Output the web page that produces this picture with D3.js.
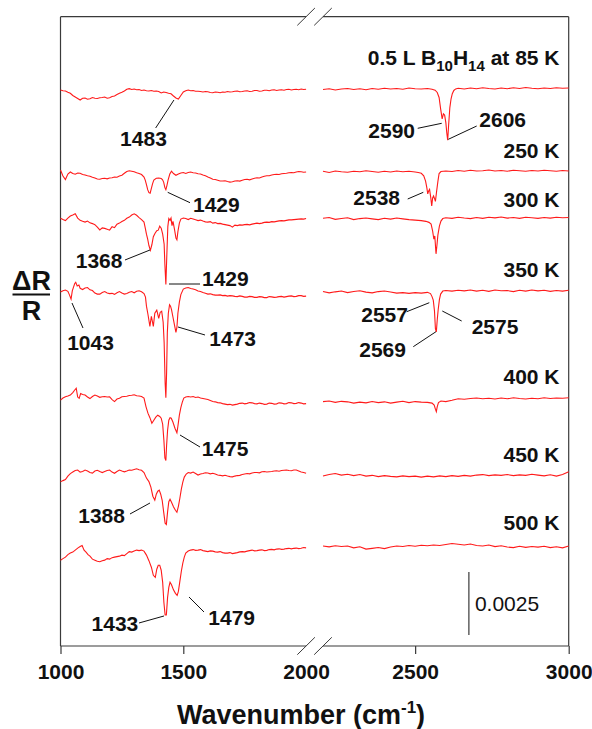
<!DOCTYPE html>
<html><head><meta charset="utf-8">
<script src="https://cdn.jsdelivr.net/npm/d3@7"></script>
<style>
body{margin:0;background:#fff}
svg{display:block}
text{font-family:"Liberation Sans",Arial,Helvetica,sans-serif}
</style>
</head><body>
<svg id="chart" width="592" height="729"></svg>
<script>
// ---------- DATA (ΔR/R in units of 1e-4, relative to each trace's offset) ----------
const temperatures = ["0.5 L B10H14 at 85 K","250 K","300 K","350 K","400 K","450 K","500 K"];
const offsets = [-29.1,-61.7,-80.4,-109.4,-152.3,-181.7,-210.7];
const xTicksLeft = [1000,1500,2000];
const xTicksRight = [2500,3000];
const scaleBarValue = 0.0025;

const left85 = [[1000,0],[1010,-0.3],[1020,-0.4],[1030,-0.9],[1040,-1.3],[1050,-2.2],[1060,-2.8],[1070,-3.4],[1080,-4.0],[1090,-3.3],[1100,-3.2],[1110,-3.7],[1120,-3.5],[1130,-3.0],[1140,-3.3],[1150,-3.4],[1160,-3.1],[1170,-3.0],[1180,-2.8],[1190,-3.3],[1200,-3.1],[1210,-2.6],[1220,-2.4],[1230,-1.8],[1240,-1.3],[1250,-0.9],[1260,-0.4],[1270,0.3],[1280,0.5],[1290,0.2],[1300,0.4],[1310,0.1],[1320,0.2],[1330,-0.2],[1340,0],[1350,-0.3],[1360,-0.4],[1370,-0.2],[1380,-0.5],[1390,-0.4],[1400,-0.6],[1410,-1.2],[1420,-0.8],[1430,-1.0],[1440,-1.3],[1450,-1.5],[1460,-2.4],[1470,-3.2],[1480,-3.6],[1490,-2.2],[1500,-0.8],[1510,-0.3],[1520,0],[1530,-0.3],[1540,-0.2],[1550,-0.5],[1560,-0.5],[1570,-0.6],[1580,-0.8],[1590,-0.6],[1600,-0.7],[1610,-1.0],[1620,-1.1],[1630,-0.8],[1640,-0.9],[1650,-1.1],[1660,-0.8],[1670,-0.9],[1680,-0.6],[1690,-0.8],[1700,-0.7],[1710,-0.5],[1720,-0.4],[1730,-0.7],[1740,-0.6],[1750,-0.4],[1760,-0.3],[1770,-0.6],[1780,-0.5],[1790,-0.2],[1800,-0.2],[1810,-0.5],[1820,-0.4],[1830,-0.1],[1840,-0.1],[1850,-0.3],[1860,0],[1870,0.1],[1880,-0.2],[1890,0],[1900,0.1],[1910,-0.1],[1920,0.2],[1930,0.3],[1940,0],[1950,0.2],[1960,0.3],[1970,0.1],[1980,0.4],[1990,0.2],[2000,0.3]];
const right85 = [[2200,0.2],[2220,0.5],[2240,0],[2260,0.4],[2280,0.6],[2300,0.2],[2320,0.5],[2340,0.1],[2360,0.6],[2380,0.3],[2400,0.7],[2420,0.4],[2440,0.6],[2460,0.3],[2480,0.8],[2500,0.5],[2520,0.4],[2540,0.6],[2555,0.3],[2565,-0.1],[2572,-1.0],[2578,-3.0],[2583,-7.5],[2588,-11.5],[2592,-9.5],[2596,-10],[2600,-13],[2603,-17],[2606,-20],[2609,-14],[2613,-7],[2617,-3.5],[2621,-1.5],[2626,-0.2],[2632,0.4],[2640,0.7],[2660,0.4],[2680,0.8],[2700,0.5],[2720,0.9],[2740,0.6],[2760,0.4],[2780,0.8],[2800,0.5],[2820,0.9],[2840,0.6],[2860,1.0],[2880,0.7],[2900,0.5],[2920,0.8],[2940,0.6],[2960,0.9],[2980,0.7],[3000,0.8]];

const left250 = [[1000,0.8],[1010,-1.6],[1020,-3.0],[1030,-0.8],[1040,0],[1050,-0.6],[1060,-0.9],[1070,-0.4],[1080,-0.5],[1090,-1.0],[1100,-1.2],[1110,-1.5],[1120,-1.7],[1130,-2.1],[1140,-2.4],[1150,-2.8],[1160,-2.9],[1170,-2.6],[1180,-2.5],[1190,-2.7],[1200,-2.4],[1210,-2.3],[1220,-2.0],[1230,-2.1],[1240,-1.6],[1250,-1.3],[1260,-0.5],[1270,0.2],[1280,0.5],[1290,0.3],[1300,0.1],[1310,-0.3],[1320,-0.6],[1330,-1.0],[1340,-2.0],[1345,-3.2],[1350,-5.0],[1355,-7.0],[1360,-8.2],[1365,-8.4],[1370,-6.5],[1375,-4.6],[1380,-3.2],[1390,-2.5],[1400,-2.4],[1410,-2.6],[1415,-3.0],[1420,-4.0],[1425,-6.2],[1429,-7.0],[1433,-5.5],[1438,-3.2],[1445,-0.8],[1452,0.3],[1460,-0.6],[1470,-1.3],[1480,-0.8],[1490,-0.4],[1500,-0.2],[1510,-0.6],[1520,-0.2],[1530,0],[1540,-0.3],[1550,-0.4],[1560,-0.7],[1570,-0.8],[1580,-1.2],[1590,-1.5],[1600,-2.0],[1610,-2.4],[1620,-2.9],[1630,-3.0],[1640,-3.3],[1650,-3.6],[1660,-3.6],[1670,-3.5],[1680,-3.8],[1690,-4.0],[1700,-3.9],[1710,-3.6],[1720,-3.5],[1730,-3.6],[1740,-3.3],[1750,-3.0],[1760,-2.9],[1770,-3.1],[1780,-2.8],[1790,-2.5],[1800,-2.3],[1810,-2.4],[1820,-2.0],[1830,-1.7],[1840,-1.5],[1850,-1.5],[1860,-1.2],[1870,-1.0],[1880,-0.9],[1890,-1.0],[1900,-0.7],[1910,-0.6],[1920,-0.5],[1930,-0.3],[1940,-0.2],[1950,-0.3],[1960,0],[1970,0.2],[1980,0.1],[1990,-0.1],[2000,0]];
const right250 = [[2200,0.3],[2220,-0.2],[2240,0.4],[2260,0.1],[2280,-0.1],[2300,0.3],[2320,0.1],[2340,0.5],[2360,0.2],[2380,-0.1],[2400,0.3],[2420,0],[2440,0.4],[2460,0.1],[2480,0.3],[2500,0],[2510,-0.2],[2520,-0.5],[2528,-1.5],[2534,-3.6],[2538,-6.2],[2541,-8.7],[2544,-7.5],[2547,-6.9],[2551,-10.3],[2554,-13.5],[2557,-10.3],[2560,-9.5],[2563,-10.5],[2566,-11.7],[2570,-7.6],[2574,-3.8],[2578,-0.6],[2584,0.2],[2600,0.4],[2620,0.2],[2640,0.6],[2660,0.3],[2680,0.7],[2700,0.4],[2720,0.5],[2740,0.8],[2760,0.4],[2780,0.6],[2800,0.3],[2820,0.7],[2840,0.5],[2860,0.3],[2880,0.6],[2900,0.4],[2920,0.7],[2940,0.5],[2960,0.3],[2980,0.6],[3000,0.4]];

const left300 = [[1000,0.3],[1010,-0.2],[1020,-0.6],[1030,0.4],[1040,1.2],[1050,1.6],[1060,2.1],[1070,0.4],[1080,-0.5],[1090,-0.9],[1100,-1.2],[1110,-0.8],[1120,-1.5],[1130,-1.8],[1140,-2.2],[1150,-3.2],[1160,-4.3],[1170,-3.5],[1180,-3.7],[1190,-4.0],[1200,-4.4],[1210,-3.0],[1220,-3.4],[1230,-2.0],[1240,-1.6],[1250,-1.0],[1260,-0.5],[1270,0.3],[1280,0.8],[1290,1.6],[1300,2.1],[1310,1.5],[1320,0.6],[1330,-0.2],[1340,-1.2],[1345,-3.5],[1350,-6.0],[1355,-8.0],[1360,-10.5],[1366,-12.4],[1372,-10.2],[1378,-7.0],[1385,-5.6],[1392,-4.6],[1398,-4.4],[1404,-2.8],[1410,-3.6],[1416,-6.0],[1422,-10.0],[1425,-18],[1429,-26],[1433,-14],[1437,-3.0],[1441,0.2],[1446,-0.5],[1450,0.4],[1454,-2.6],[1458,-0.9],[1464,-4.0],[1470,-7.5],[1474,-8.2],[1478,-5.0],[1484,-1.6],[1490,0],[1500,0.4],[1510,0.2],[1520,-0.2],[1530,0.3],[1540,0],[1550,-0.3],[1560,-0.6],[1570,-0.4],[1580,-0.8],[1590,-1.1],[1600,-1.2],[1610,-1.0],[1620,-1.6],[1630,-1.4],[1640,-1.8],[1650,-1.7],[1660,-2.0],[1670,-2.2],[1680,-2.4],[1690,-2.6],[1700,-3.2],[1710,-2.4],[1720,-2.6],[1730,-2.3],[1740,-2.4],[1750,-2.2],[1760,-2.1],[1770,-2.3],[1780,-2.0],[1790,-1.8],[1800,-1.6],[1810,-1.8],[1820,-1.6],[1830,-1.3],[1840,-1.2],[1850,-1.3],[1860,-1.0],[1870,-1.1],[1880,-0.9],[1890,-0.7],[1900,-0.6],[1910,-0.7],[1920,-0.5],[1930,-0.3],[1940,-0.3],[1950,-0.2],[1960,-0.1],[1970,0],[1980,0.1],[1990,0],[2000,0.2]];
const right300 = [[2200,0.3],[2220,0.6],[2240,-0.1],[2260,0.2],[2280,0.5],[2300,-0.2],[2320,0.2],[2340,0.4],[2360,0.1],[2380,-0.2],[2400,0.3],[2420,0],[2440,0.4],[2460,0.1],[2480,-0.2],[2500,-0.4],[2520,-0.6],[2535,-0.9],[2545,-1.3],[2552,-2.0],[2557,-4.8],[2561,-8.0],[2564,-6.7],[2568,-13.8],[2571,-10.4],[2574,-6.4],[2579,-2.8],[2584,-0.8],[2590,0.2],[2600,0.5],[2620,0.3],[2640,0.7],[2660,0.4],[2680,0.2],[2700,0.6],[2720,0.3],[2740,0.7],[2760,0.5],[2780,0.8],[2800,0.4],[2820,0.6],[2840,0.3],[2860,0.7],[2880,0.5],[2900,0.3],[2920,0.6],[2940,0.4],[2960,0.7],[2980,0.5],[3000,0.6]];

const left350 = [[1000,0],[1010,0.5],[1020,0.8],[1030,0.3],[1036,-1.0],[1043,-2.8],[1048,0.5],[1053,2.0],[1058,3.4],[1062,3.9],[1068,2.4],[1075,2.8],[1080,1.5],[1090,1.0],[1100,1.6],[1110,1.8],[1120,0.9],[1130,0.6],[1140,-0.4],[1150,-0.8],[1160,-0.8],[1170,-0.2],[1180,0.2],[1190,-0.4],[1200,-0.6],[1210,-0.5],[1220,-0.9],[1230,-0.3],[1240,0.2],[1250,-0.4],[1260,-0.8],[1270,-0.6],[1280,-0.1],[1290,0.2],[1300,-0.3],[1310,0.3],[1320,0.5],[1330,0.1],[1340,-0.6],[1346,-2.0],[1350,-5.6],[1356,-8.8],[1364,-13.6],[1370,-9.6],[1378,-13.6],[1384,-8.4],[1392,-7.2],[1400,-10.4],[1406,-8.0],[1412,-7.6],[1418,-12],[1422,-20],[1426,-36],[1429,-42],[1432,-32],[1435,-16],[1439,-8.4],[1444,-5.0],[1448,-5.6],[1452,-7.0],[1458,-10.0],[1464,-13.0],[1470,-16.0],[1474,-14],[1478,-8.4],[1484,-4.0],[1490,-1.0],[1500,1.2],[1510,1.6],[1520,1.8],[1530,1.4],[1540,1.2],[1550,0.9],[1560,0.4],[1570,0.2],[1580,-0.2],[1590,-0.5],[1600,-0.8],[1610,-0.7],[1620,-1.0],[1630,-1.2],[1640,-1.2],[1650,-1.1],[1660,-1.4],[1670,-1.3],[1680,-1.6],[1690,-1.4],[1700,-1.5],[1710,-1.7],[1720,-1.8],[1730,-1.5],[1740,-1.7],[1750,-2.0],[1760,-2.0],[1770,-1.7],[1780,-1.8],[1790,-2.1],[1800,-2.1],[1810,-1.8],[1820,-1.9],[1830,-2.2],[1840,-2.2],[1850,-1.8],[1860,-1.9],[1870,-2.1],[1880,-2.0],[1890,-1.8],[1900,-1.7],[1910,-2.0],[1920,-1.8],[1930,-1.6],[1940,-1.5],[1950,-1.8],[1960,-1.7],[1970,-1.4],[1980,-1.4],[1990,-1.7],[2000,-1.6]];
const right350 = [[2200,0.2],[2220,-0.3],[2240,0.1],[2260,0.4],[2280,-0.2],[2300,0.2],[2320,0.5],[2340,0],[2360,-0.3],[2380,0.2],[2400,0.4],[2420,0],[2440,-0.4],[2460,-0.2],[2480,-0.5],[2500,-0.2],[2520,-0.4],[2540,-0.1],[2550,-0.6],[2555,-1.8],[2559,-3.2],[2563,-7.5],[2566,-14.5],[2569,-15.8],[2572,-11.0],[2575,-7.0],[2579,-3.0],[2583,-0.8],[2590,0.4],[2600,0.6],[2620,0.4],[2640,0.7],[2660,0.5],[2680,0.8],[2700,0.4],[2720,0.7],[2740,0.3],[2760,0.8],[2780,0.5],[2800,0.6],[2820,0.2],[2840,0.7],[2860,0.4],[2880,0.8],[2900,0.5],[2920,0.7],[2940,0.3],[2960,0.6],[2980,0.4],[3000,0.7]];

const left400 = [[1000,0],[1010,0.8],[1020,1.3],[1030,1.6],[1040,2.0],[1050,3.0],[1058,4.0],[1064,4.7],[1070,1.2],[1076,0.7],[1082,2.6],[1090,2.2],[1100,2.0],[1110,1.2],[1120,0.6],[1130,1.4],[1140,2.0],[1150,1.6],[1160,1.1],[1170,1.3],[1180,1.4],[1190,1.2],[1200,1.3],[1210,0.2],[1220,-0.6],[1230,0.4],[1240,0.7],[1250,1.3],[1260,1.4],[1270,1.5],[1280,1.8],[1290,1.9],[1300,2.1],[1310,1.7],[1320,1.6],[1330,1.4],[1340,0.8],[1348,-2.6],[1356,-5.2],[1364,-7.0],[1372,-9.2],[1380,-8.0],[1388,-6.8],[1396,-6.0],[1404,-6.5],[1410,-7.2],[1416,-9.6],[1421,-16],[1425,-23],[1429,-24],[1432,-18],[1436,-12],[1441,-8.0],[1446,-7.0],[1451,-7.2],[1458,-8.8],[1466,-11.2],[1474,-13.0],[1478,-10.4],[1484,-6.0],[1490,-3.0],[1496,-0.8],[1502,0.8],[1510,1.2],[1520,1.4],[1530,1.2],[1540,1.4],[1550,1.0],[1560,1.2],[1570,0.8],[1580,0.6],[1590,0.4],[1600,0.2],[1610,-0.2],[1620,-0.6],[1630,-0.7],[1640,-1.0],[1650,-1.1],[1660,-1.4],[1670,-1.6],[1680,-1.8],[1690,-1.7],[1700,-2.0],[1710,-1.8],[1720,-1.6],[1730,-1.3],[1740,-1.2],[1750,-1.5],[1760,-1.3],[1770,-1.0],[1780,-1.1],[1790,-1.4],[1800,-1.5],[1810,-1.2],[1820,-1.4],[1830,-1.7],[1840,-1.6],[1850,-1.2],[1860,-1.3],[1870,-1.6],[1880,-1.5],[1890,-1.1],[1900,-1.2],[1910,-1.5],[1920,-1.4],[1930,-1.0],[1940,-1.1],[1950,-1.4],[1960,-1.3],[1970,-1.0],[1980,-1.2],[1990,-1.5],[2000,-1.4]];
const right400 = [[2200,-0.6],[2220,-0.4],[2240,-0.9],[2260,-0.5],[2280,-0.7],[2300,-1.2],[2320,-0.8],[2340,-1.1],[2360,-0.6],[2380,-1.0],[2400,-0.7],[2420,-1.2],[2440,-0.8],[2460,-0.5],[2480,-1.0],[2500,-0.6],[2520,-0.8],[2540,-0.9],[2555,-1.2],[2562,-2.0],[2566,-3.6],[2569,-4.6],[2572,-2.6],[2576,-1.0],[2584,-0.4],[2600,-0.6],[2620,-0.1],[2640,0.5],[2660,0.3],[2680,0.6],[2700,0.8],[2720,0.5],[2740,0.7],[2760,0.4],[2780,0.8],[2800,0.5],[2820,0.9],[2840,0.6],[2860,0.4],[2880,0.7],[2900,0.5],[2920,0.9],[2940,0.6],[2960,0.8],[2980,0.7],[3000,0.9]];

const left450 = [[1000,-3.1],[1010,-2.6],[1020,-2.2],[1030,-0.8],[1040,0.2],[1050,0.8],[1060,1.4],[1070,1.6],[1080,0.8],[1090,1.0],[1100,1.6],[1110,1.2],[1120,0.6],[1130,0.4],[1140,1.2],[1150,1.5],[1160,1.0],[1170,0.6],[1180,1.0],[1190,1.4],[1200,1.6],[1210,0.8],[1220,0.3],[1230,1.0],[1240,1.6],[1250,1.2],[1260,0.9],[1270,1.2],[1280,1.6],[1290,1.5],[1300,1.8],[1310,2.1],[1320,1.7],[1330,1.5],[1340,0.6],[1350,-1.6],[1360,-3.0],[1368,-5.2],[1376,-8.8],[1384,-10.4],[1390,-8.0],[1396,-6.8],[1402,-6.4],[1408,-8.0],[1414,-10.4],[1420,-15],[1426,-19.5],[1431,-20],[1436,-15],[1441,-11],[1446,-10],[1452,-11.2],[1460,-13],[1468,-14.4],[1474,-15.2],[1480,-12.8],[1486,-9.6],[1492,-6.0],[1498,-3.2],[1504,-1.2],[1512,0],[1520,0.6],[1530,0.4],[1540,0.8],[1550,0.2],[1560,-0.4],[1570,0],[1580,0.2],[1590,0.5],[1600,0.4],[1610,0.1],[1620,0.3],[1630,0],[1640,-0.4],[1650,-0.5],[1660,-0.7],[1670,-0.5],[1680,-0.8],[1690,-1.0],[1700,-1.1],[1710,-0.8],[1720,-0.6],[1730,-0.5],[1740,-0.2],[1750,0],[1760,0.2],[1770,0.1],[1780,0.4],[1790,0.6],[1800,0.6],[1810,0.5],[1820,0.9],[1830,1.0],[1840,0.8],[1850,0.9],[1860,1.0],[1870,1.2],[1880,1.3],[1890,1.1],[1900,1.4],[1910,1.5],[1920,1.6],[1930,1.4],[1940,1.3],[1950,1.6],[1960,1.6],[1970,1.2],[1980,0.8],[1990,0.6],[2000,0.3]];
const right450 = [[2200,-0.8],[2220,-0.2],[2240,0.2],[2260,-0.4],[2280,-0.1],[2300,-0.6],[2320,-0.2],[2340,-0.8],[2360,-0.5],[2380,-1.0],[2400,-0.6],[2420,-0.9],[2440,-1.1],[2460,-0.7],[2480,-1.0],[2500,-0.8],[2520,-1.2],[2540,-0.8],[2560,-1.1],[2580,-0.7],[2600,-1.0],[2620,-0.6],[2640,-0.9],[2660,-0.5],[2680,-0.8],[2700,-0.4],[2720,-0.2],[2740,-0.6],[2760,-0.3],[2780,-0.5],[2800,-0.2],[2820,-0.6],[2840,-0.3],[2860,-0.5],[2880,-0.1],[2900,-0.4],[2920,-0.7],[2940,-0.3],[2960,-0.8],[2980,-0.2],[3000,0.9]];

const left500 = [[1000,-5.2],[1010,-4.6],[1020,-4.0],[1030,-3.0],[1040,-2.4],[1050,-2.0],[1060,-1.2],[1070,-0.4],[1080,0.2],[1088,0.6],[1096,-1.2],[1104,-2.0],[1112,-3.0],[1120,-3.6],[1130,-4.8],[1140,-5.2],[1150,-5.6],[1160,-5.8],[1170,-5.4],[1180,-5.2],[1190,-4.6],[1200,-4.8],[1210,-4.2],[1220,-4.0],[1230,-3.8],[1240,-3.6],[1250,-3.2],[1260,-3.4],[1270,-2.6],[1280,-1.8],[1290,-2.0],[1300,-1.6],[1310,-1.2],[1320,-1.4],[1330,-1.2],[1340,-1.6],[1350,-3.2],[1360,-5.4],[1370,-8.0],[1378,-11.2],[1386,-12],[1392,-8.8],[1398,-7.2],[1404,-7.2],[1410,-9.2],[1416,-14],[1421,-22],[1426,-27],[1431,-27],[1436,-20],[1441,-16],[1446,-14.0],[1452,-15],[1460,-17],[1468,-18.4],[1475,-19.2],[1480,-17.6],[1486,-13.6],[1492,-9.6],[1498,-6.4],[1504,-4.0],[1510,-2.4],[1520,-1.6],[1530,-1.2],[1540,-1.0],[1550,-1.3],[1560,-1.2],[1570,-1.0],[1580,-1.4],[1590,-1.6],[1600,-1.8],[1610,-1.5],[1620,-1.6],[1630,-1.9],[1640,-2.0],[1650,-1.8],[1660,-2.2],[1670,-2.4],[1680,-2.4],[1690,-2.2],[1700,-2.6],[1710,-2.4],[1720,-2.2],[1730,-1.9],[1740,-1.8],[1750,-1.9],[1760,-1.6],[1770,-1.4],[1780,-1.2],[1790,-1.5],[1800,-1.4],[1810,-1.2],[1820,-1.1],[1830,-1.4],[1840,-1.3],[1850,-1.0],[1860,-0.9],[1870,-1.1],[1880,-0.8],[1890,-0.7],[1900,-0.9],[1910,-0.8],[1920,-0.6],[1930,-0.5],[1940,-0.7],[1950,-0.5],[1960,-0.4],[1970,-0.6],[1980,-0.5],[1990,-0.2],[2000,-0.3]];
const right500 = [[2200,0.4],[2220,0.1],[2240,0.5],[2260,0.2],[2280,0.4],[2300,-0.3],[2320,0.1],[2340,-0.8],[2360,-0.5],[2380,-0.2],[2400,-0.6],[2420,0],[2440,0.4],[2460,0.2],[2480,0.6],[2500,0.3],[2520,0.7],[2540,0.5],[2560,0.8],[2580,0.6],[2600,1.0],[2620,1.4],[2640,1.1],[2660,0.8],[2680,1.2],[2700,0.6],[2720,0.4],[2740,0.8],[2760,0.2],[2780,0.5],[2800,0],[2820,-0.2],[2840,0.3],[2860,-0.1],[2880,0.2],[2900,0],[2920,0.3],[2940,-0.2],[2960,0.1],[2980,-0.3],[3000,0.4]];

// peak annotations: label, panel, wavenumber and ΔR/R (1e-4) of the pointed spot
const peakLabels = ["1483","1429","1368","1429","1043","1473","1475","1388","1433","1479","2590","2606","2538","2557","2575","2569"];
const peakPanels = ["L","L","L","L","L","L","L","L","L","L","R","R","R","R","R","R"];
const peakWn = [1462,1436.5,1364.4,1441.8,1046.8,1478.4,1486.6,1364.4,1421.4,1523.2,2586.5,2608,2526.6,2546.1,2588.4,2567.9];
const peakVal = [-33.09,-69.76,-92.68,-106.19,-113.74,-123.27,-166.18,-193.19,-238.08,-230.53,-42.35,-48.71,-69.76,-113.62,-116.92,-125.14];

// ---------- LAYOUT ----------
const svg = d3.select("#chart");
const xL = d3.scaleLinear().domain([1000,2000]).range([60.5,306.1]);
const xR = d3.scaleLinear().domain([2200,3000]).range([323,568.7]);
const y = d3.scaleLinear().domain([-250,0]).range([646,16.7]);
const yTop = y(0), yBot = y(-250);

const frame = svg.append("g").attr("stroke","#3a3a3a").attr("stroke-width",1.2).attr("fill","none");
[[xL(1000),yTop,xL(1000),yBot],[xR(3000),yTop,xR(3000),yBot],
 [xL(1000),yTop,xL(2000),yTop],[xR(2200),yTop,xR(3000),yTop],
 [xL(1000),yBot,xL(2000),yBot],[xR(2200),yBot,xR(3000),yBot]].forEach(s=>{
  frame.append("line").attr("x1",s[0]).attr("y1",s[1]).attr("x2",s[2]).attr("y2",s[3]);
});
// break marks
[yTop,yBot].forEach(yy=>{
  [xL(2000),xR(2200)].forEach(cx=>{
    frame.append("line").attr("x1",cx-8.8).attr("y1",yy+8.7).attr("x2",cx+8.8).attr("y2",yy-8.7).attr("stroke-width",1);
  });
});

// axes
const axL = d3.axisBottom(xL).tickValues(xTicksLeft).tickSize(8).tickSizeOuter(0).tickPadding(10).tickFormat(d3.format("d"));
const axR = d3.axisBottom(xR).tickValues(xTicksRight).tickSize(8).tickSizeOuter(0).tickPadding(10).tickFormat(d3.format("d"));
[axL,axR].forEach(a=>{
  const g = svg.append("g").attr("transform",`translate(0,${yBot})`).call(a);
  g.select(".domain").remove();
  g.selectAll(".tick line").attr("stroke","#3a3a3a").attr("stroke-width",1.2);
  g.selectAll(".tick text").attr("font-size",21).attr("font-weight","bold").attr("fill","#111")
    .attr("font-family","'Liberation Sans',Arial,sans-serif");
  g.selectAll(".tick").filter(d=>d===2000).select("line").remove();
});

// traces
const traces = [[left85,right85],[left250,right250],[left300,right300],[left350,right350],[left400,right400],[left450,right450],[left500,right500]];
traces.forEach((t,i)=>{
  const off = offsets[i];
  const lineL = d3.line().x(d=>xL(d[0])).y(d=>y(off+d[1]));
  const lineR = d3.line().x(d=>xR(d[0])).y(d=>y(off+d[1]));
  svg.append("path").attr("d",lineL(t[0])).attr("fill","none").attr("stroke","#ff1a1a").attr("stroke-width",1.1);
  svg.append("path").attr("d",lineR(t[1])).attr("fill","none").attr("stroke","#ff1a1a").attr("stroke-width",1.1);
});

// temperature labels
const tempDy = [-25,-14,-12,-15,-16,-12,-17];
temperatures.forEach((t,i)=>{
  const tx = svg.append("text").attr("x",559.5).attr("y",y(offsets[i])+tempDy[i])
    .attr("text-anchor","end").attr("font-size",21).attr("font-weight","bold").attr("fill","#111");
  if(i===0){
    tx.append("tspan").text("0.5 L B");
    tx.append("tspan").text("10").attr("font-size",15).attr("dy",6);
    tx.append("tspan").text("H").attr("dy",-6);
    tx.append("tspan").text("14").attr("font-size",15).attr("dy",6);
    tx.append("tspan").text(" at 85 K").attr("dy",-6);
  } else tx.text(t);
});

// annotations (leader start offset, text offset, anchor)
const annLayout = [
 {lx:-18.3,ly:28,tx:-30.5,ty:46.5,a:"middle"},
 {lx:22.3,ly:10.4,tx:25.3,ty:19.7,a:"start"},
 {lx:-25,ly:10,tx:-27.5,ty:18,a:"end"},
 {lx:31,ly:0,tx:33,ty:2,a:"start"},
 {lx:11,ly:25,tx:18.5,ty:47,a:"middle"},
 {lx:27,ly:8,tx:31.3,ty:19,a:"start"},
 {lx:20,ly:12,tx:21.7,ty:21,a:"start"},
 {lx:-20,ly:11,tx:-25,ty:20,a:"end"},
 {lx:-25,ly:7,tx:-25.7,ty:15,a:"end"},
 {lx:15,ly:15,tx:19.3,ty:28,a:"start"},
 {lx:-24,ly:5,tx:-26.7,ty:14.7,a:"end"},
 {lx:28.4,ly:-13.3,tx:31,ty:-12.3,a:"start"},
 {lx:-15.6,ly:6.7,tx:-23.3,ty:12.7,a:"end"},
 {lx:-22.6,ly:9,tx:-21.3,ty:19.3,a:"end"},
 {lx:19.4,ly:10,tx:29.4,ty:23,a:"start"},
 {lx:-22.7,ly:15,tx:-30,ty:25.3,a:"end"}
];
peakLabels.forEach((lab,i)=>{
  const px = (peakPanels[i]==="L"?xL:xR)(peakWn[i]);
  const py = y(peakVal[i]);
  const L = annLayout[i];
  svg.append("line").attr("x1",px).attr("y1",py).attr("x2",px+L.lx).attr("y2",py+L.ly)
    .attr("stroke","#111").attr("stroke-width",1);
  svg.append("text").attr("x",px+L.tx).attr("y",py+L.ty).attr("text-anchor",L.a)
    .attr("font-size",21).attr("font-weight","bold").attr("fill","#111").text(lab);
});

// scale bar
const sbX = xR(2675), sbBottom = -245.6;
svg.append("line").attr("x1",sbX).attr("x2",sbX).attr("y1",y(sbBottom)).attr("y2",y(sbBottom+scaleBarValue*1e4))
  .attr("stroke","#3a3a3a").attr("stroke-width",1.2);
svg.append("text").attr("x",sbX+6).attr("y",(y(sbBottom)+y(sbBottom+scaleBarValue*1e4))/2+7.5)
  .attr("font-size",21).attr("fill","#111").text(String(scaleBarValue));

// axis titles
const yt = svg.append("g").attr("font-weight","bold").attr("font-size",27).attr("fill","#111");
yt.append("text").attr("x",31.5).attr("y",290).attr("text-anchor","middle").text("ΔR");
yt.append("line").attr("x1",12.5).attr("x2",50).attr("y1",294.5).attr("y2",294.5).attr("stroke","#111").attr("stroke-width",2);
yt.append("text").attr("x",31.5).attr("y",320).attr("text-anchor","middle").text("R");

const xt = svg.append("text").attr("x",301).attr("y",724).attr("text-anchor","middle")
  .attr("font-size",27).attr("font-weight","bold").attr("fill","#111");
xt.append("tspan").text("Wavenumber (cm");
xt.append("tspan").text("-1").attr("font-size",17).attr("dy",-11);
xt.append("tspan").text(")").attr("dy",11);
</script>
</body></html>
